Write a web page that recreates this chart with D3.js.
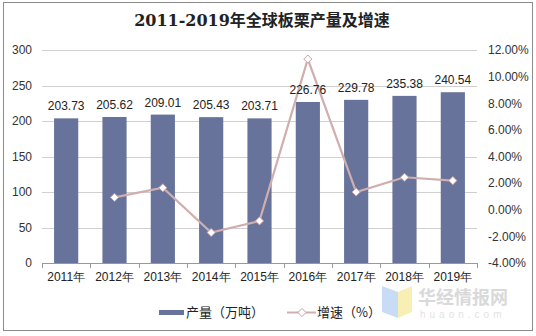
<!DOCTYPE html>
<html><head><meta charset="utf-8">
<script src="https://cdn.jsdelivr.net/npm/d3@7/dist/d3.min.js"></script>
<style>body{margin:0;background:#fff}svg{display:block}</style>
</head><body>
<script>
const years = ["2011年","2012年","2013年","2014年","2015年","2016年","2017年","2018年","2019年"];
const output = [203.73,205.62,209.01,205.43,203.71,226.76,229.78,235.38,240.54];
const growth = [null,0.93,1.65,-1.71,-0.84,11.32,1.33,2.44,2.19];
const leftTicks = [0,50,100,150,200,250,300];
const rightTicks = [-4,-2,0,2,4,6,8,10,12];

const W=536,H=336;
const svg=d3.select("body").append("svg").attr("width",W).attr("height",H);
svg.append("rect").attr("x",3.5).attr("y",2.5).attr("width",529).attr("height",328).attr("fill","#fff").attr("stroke","#8c8c8c");

const x0=42,x1=477,yTop=50,yBot=263;
const x=d3.scaleBand().domain(years).range([x0,x1]).paddingInner(0.5).paddingOuter(0.25);
const y=d3.scaleLinear().domain([0,300]).range([yBot,yTop]);
const y2=d3.scaleLinear().domain([-4,12]).range([yBot,yTop]);
const font="'Liberation Sans',Arial,sans-serif";

// gridlines
svg.append("g").selectAll("line").data(leftTicks.filter(d=>d>0)).join("line")
  .attr("x1",x0).attr("x2",x1).attr("y1",d=>Math.round(y(d))+0.5).attr("y2",d=>Math.round(y(d))+0.5)
  .attr("stroke","#d0d0d0");

// left axis
const gl=svg.append("g").attr("transform",`translate(${x0},0)`)
  .call(d3.axisLeft(y).tickValues(leftTicks).tickSize(0).tickPadding(10));
gl.select(".domain").remove();
gl.selectAll("text").attr("font-family",font).attr("font-size",12).attr("fill","#333");

// right axis
const gr=svg.append("g").attr("transform",`translate(${x1},0)`)
  .call(d3.axisRight(y2).tickValues(rightTicks).tickSize(0).tickPadding(11).tickFormat(d=>d.toFixed(2)+"%"));
gr.select(".domain").remove();
gr.selectAll("text").attr("font-family",font).attr("font-size",12).attr("fill","#333");

// bars
svg.append("g").selectAll("rect").data(output).join("rect")
  .attr("x",(d,i)=>x(years[i])).attr("width",x.bandwidth())
  .attr("y",d=>y(d)).attr("height",d=>yBot-y(d)).attr("fill","#67739a");

// x axis
const gx=svg.append("g").attr("transform",`translate(0,${yBot})`)
  .call(d3.axisBottom(x).tickSize(0).tickPadding(9));
gx.select(".domain").attr("stroke","#999");
gx.selectAll("text").attr("font-family",font).attr("font-size",12).attr("fill","#222");
const step=x.step();
svg.append("g").selectAll("line").data(d3.range(years.length+1)).join("line")
  .attr("x1",i=>Math.round(x0+i*step)+0.5).attr("x2",i=>Math.round(x0+i*step)+0.5)
  .attr("y1",yBot).attr("y2",yBot+5).attr("stroke","#999");

// growth line
const pts=growth.map((g,i)=>({g,i})).filter(d=>d.g!==null);
const cx=i=>x(years[i])+x.bandwidth()/2;
svg.append("path").datum(pts)
  .attr("d",d3.line().x(d=>cx(d.i)).y(d=>y2(d.g)))
  .attr("fill","none").attr("stroke","#d0aeae").attr("stroke-width",2.2);
svg.append("g").selectAll("path").data(pts).join("path")
  .attr("transform",d=>`translate(${cx(d.i)},${y2(d.g)})`)
  .attr("d",d3.symbol(d3.symbolDiamond2,42))
  .attr("fill","#fff").attr("stroke","#c9a0a2").attr("stroke-width",1);

// bar labels (on top of line)
svg.append("g").selectAll("text").data(output).join("text")
  .attr("x",(d,i)=>x(years[i])+x.bandwidth()/2).attr("y",d=>y(d)-8)
  .attr("text-anchor","middle").attr("font-family",font).attr("font-size",12).attr("fill","#222")
  .text(d=>d.toFixed(2));

// title
svg.append("text").attr("x",262).attr("y",26).attr("text-anchor","middle")
  .attr("font-family","'DejaVu Serif','Noto Sans CJK SC',serif").attr("font-size",16).attr("font-weight","bold").attr("fill","#222")
  .text("2011-2019年全球板栗产量及增速");

// legend
const lg=svg.append("g");
lg.append("rect").attr("x",159).attr("y",310).attr("width",25).attr("height",5).attr("fill","#67739a");
lg.append("text").attr("x",186).attr("y",317).attr("font-family","'Noto Sans CJK SC',sans-serif").attr("font-size",13).attr("fill","#222").text("产量（万吨）");
lg.append("line").attr("x1",287).attr("x2",316).attr("y1",312.5).attr("y2",312.5).attr("stroke","#d0aeae").attr("stroke-width",2);
lg.append("path").attr("transform","translate(302,312.5)").attr("d",d3.symbol(d3.symbolDiamond2,42)).attr("fill","#fff").attr("stroke","#c9a0a2");
lg.append("text").attr("x",317).attr("y",317).attr("font-family","'Noto Sans CJK SC',sans-serif").attr("font-size",13).attr("fill","#222").text("增速（%）");

// watermark
const wm=svg.append("g").attr("opacity",0.55);
wm.append("path").attr("d","M382,286 L398,292 L398,318 L382,312 Z").attr("fill","#9cc3ee");
wm.append("path").attr("d","M398,292 L412,286 L412,312 L398,318 Z").attr("fill","#f3e27a");
wm.append("text").attr("x",418).attr("y",304).attr("font-family","'Noto Sans CJK SC',sans-serif").attr("font-size",18).attr("font-weight","bold").attr("fill","#bbb").text("华经情报网");
wm.append("text").attr("x",420).attr("y",318).attr("font-family",font).attr("font-size",10).attr("letter-spacing",4).attr("fill","#ccc").text("huaon.com");
</script>
</body></html>
